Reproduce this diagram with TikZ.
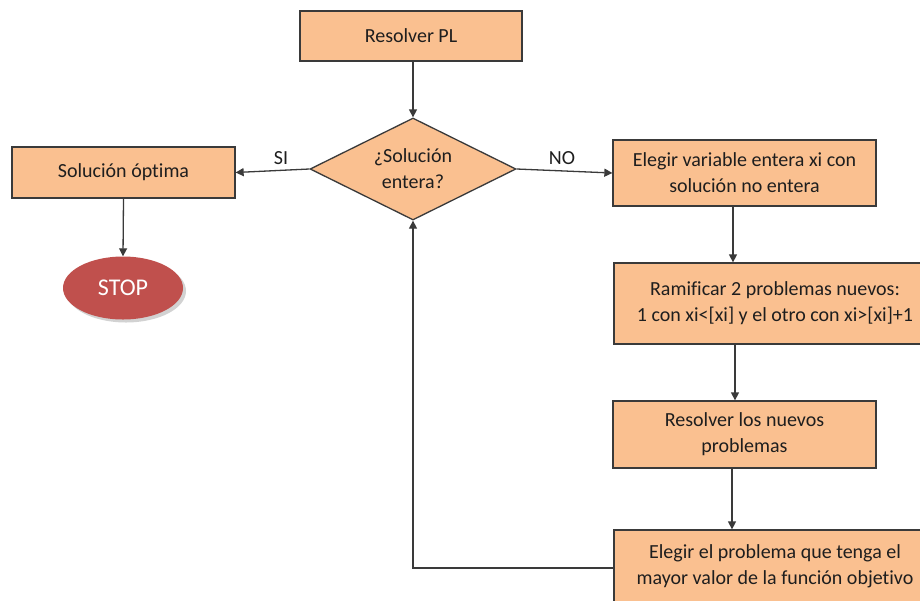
\documentclass[tikz,border=0pt]{standalone}
\usepackage{fontspec}
\setmainfont{Carlito}[Ligatures=NoCommon]
\usetikzlibrary{shapes.geometric,arrows.meta,shadows}
\definecolor{boxfill}{HTML}{FAC090}
\definecolor{stopred}{HTML}{C0504D}
\definecolor{edgecol}{HTML}{3A3A3A}
\definecolor{txt}{HTML}{1E1E1E}
\begin{document}
\begin{tikzpicture}[x=1pt,y=-1pt,
  proc/.style={draw=edgecol, line width=1.3pt, fill=boxfill, align=center, inner sep=0pt,
    font=\fontsize{20}{26}\selectfont, text=txt},
  conn/.style={draw=edgecol, line width=1.3pt, -{Triangle[length=8pt,width=8pt]}},
  lab/.style={font=\fontsize{20}{26}\selectfont, text=txt, inner sep=0pt}]
\useasboundingbox (0,0) rectangle (920,600);
\fill[white] (0,0) rectangle (920,600);
\clip (0,0) rectangle (920,600);

\node[proc, minimum width=222pt, minimum height=50pt] (pl) at (411,36) {Resolver PL};
\node[proc, diamond, aspect=2, minimum width=206pt, minimum height=102pt] (dec) at (413,169) {¿Solución\\entera?};
\node[proc, minimum width=223pt, minimum height=51pt] (opt) at (123.5,172.5) {Solución óptima};
\node[ellipse, fill=stopred, minimum width=120pt, minimum height=63pt, inner sep=0pt,
  drop shadow={opacity=0.35, shadow xshift=3pt, shadow yshift=-3pt},
  text=white, font=\fontsize{24}{28}\selectfont] (stop) at (123,288) {STOP};
\node[proc, minimum width=263pt, minimum height=66pt] (var) at (744.5,173) {Elegir variable entera xi con\\solución no entera};
\node[proc, minimum width=322pt, minimum height=81pt] (ram) at (775,303.5) {Ramificar 2 problemas nuevos:\\1 con xi<[xi] y el otro con xi>[xi]+1};
\node[proc, minimum width=263pt, minimum height=67pt] (res) at (744.5,434.5) {Resolver los nuevos\\problemas};
\node[proc, minimum width=322pt, minimum height=82pt, text depth=12pt] (prob) at (775,571) {Elegir el problema que tenga el\\mayor valor de la función objetivo};

\coordinate (xa) at (733,0);
\coordinate (xb) at (735,0);
\coordinate (xc) at (732,0);

\draw[conn] (pl.south -| dec.north) -- (dec.north);
\draw[conn] (dec.west) -- (opt.east);
\draw[conn] (dec.east) -- (var.west);
\draw[conn] (opt.south) -- (stop.north);
\draw[conn] (var.south -| xa) -- (ram.north -| xa);
\draw[conn] (ram.south -| xb) -- (res.north -| xb);
\draw[conn] (res.south -| xc) -- (prob.north -| xc);
\draw[conn] ([yshift=3pt]prob.west) -- ([yshift=3pt]prob.west -| dec.south) -- (dec.south);

\node[lab] (si) at (281,158) {SI};
\node[lab] (no) at (562,158) {NO};
\end{tikzpicture}
\end{document}
